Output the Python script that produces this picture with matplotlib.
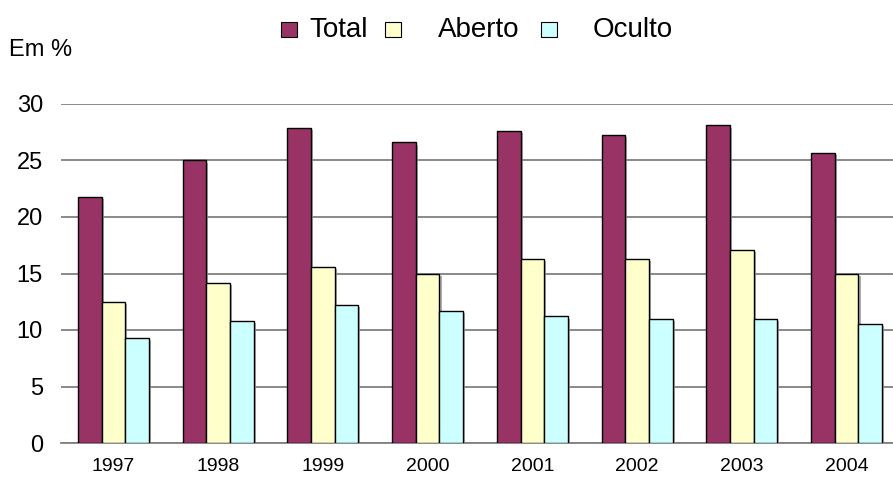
import numpy as np
import matplotlib
matplotlib.use("Agg")
import matplotlib.pyplot as plt
import matplotlib.patheffects as pe
from matplotlib.patches import Rectangle

# data
years = ['1997', '1998', '1999', '2000', '2001', '2002', '2003', '2004']
total = [21.8, 25.0, 27.9, 26.6, 27.6, 27.3, 28.1, 25.7]
aberto = [12.5, 14.2, 15.6, 15.0, 16.3, 16.3, 17.1, 15.0]
oculto = [9.3, 10.8, 12.2, 11.7, 11.2, 11.0, 11.0, 10.5]

series = [('Total', total, '#993366'),
          ('Aberto', aberto, '#FFFFCC'),
          ('Oculto', oculto, '#CCFFFF')]

plt.rcParams['font.family'] = ['Liberation Sans', 'DejaVu Sans']

W, H = 893, 482
fig = plt.figure(figsize=(W / 100, H / 100), dpi=100)
ax = fig.add_axes([61 / W, (H - 443) / H, (W - 61) / W, 339 / H])

x = np.arange(len(years))
bw = 0.226
shadow = [pe.SimplePatchShadow(offset=(1.5, -1.5), shadow_rgbFace='#999999', alpha=0.8), pe.Normal()]
for i, (name, vals, col) in enumerate(series):
    bars = ax.bar(x + (i - 1) * bw, vals, bw, color=col, edgecolor='black',
                  linewidth=1.0, label=name, zorder=3)
    for b in bars:
        b.set_path_effects(shadow)

ax.set_ylim(0, 30)
ax.set_xlim(-0.5, 7.5 - 6 / 104.9)
ax.set_yticks(range(0, 31, 5))
ax.set_xticks(x)
ax.set_xticklabels(years, fontsize=14)
ax.tick_params(axis='y', labelsize=17, length=0, pad=13)
ax.tick_params(axis='x', length=0, pad=11)
ax.yaxis.grid(True, color='#808080', linewidth=1.3, zorder=0)
ax.set_axisbelow(True)
for s in ['top', 'right', 'left']:
    ax.spines[s].set_visible(False)
ax.spines['bottom'].set_color('#808080')
ax.spines['bottom'].set_linewidth(1.3)

fig.text(9 / W, 1 - 56 / H, 'Em %', fontsize=17, va='baseline', ha='left')

# legend, laid out like the original (uneven gaps)
leg_boxes = [281, 385, 541]
leg_texts = [309, 438, 593]
for (name, _, col), bx, tx in zip(series, leg_boxes, leg_texts):
    fig.add_artist(Rectangle((bx / W, 1 - 37 / H), 16 / W, 15 / H, facecolor=col,
                             edgecolor='black', linewidth=0.8, transform=fig.transFigure))
    fig.text(tx / W, 1 - 37 / H, name, fontsize=20, va='baseline', ha='left')

fig.savefig('out.png', dpi=100)
